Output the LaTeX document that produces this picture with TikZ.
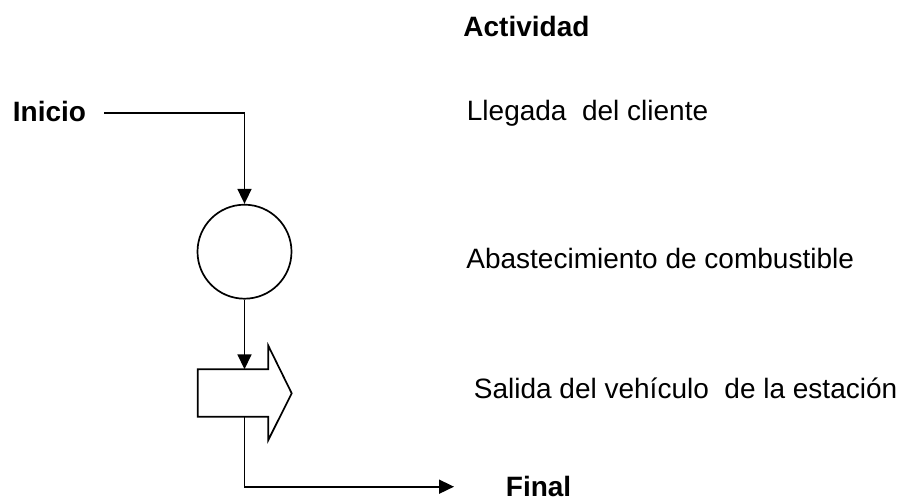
\documentclass[tikz,border=0pt]{standalone}
\usepackage{fontspec}
\setmainfont{Liberation Sans}
\usetikzlibrary{arrows.meta}
\begin{document}
\begin{tikzpicture}[x=0.5pt,y=-0.5pt,
  lbl/.style={anchor=base west,inner sep=0pt,font=\fontsize{14}{17}\selectfont},
  blbl/.style={lbl,font=\fontsize{14}{17}\selectfont\bfseries},
  conn/.style={line width=0.85pt,-{Triangle[length=7.5pt,width=7pt]}},
  shp/.style={draw,line width=0.85pt}]
\useasboundingbox (0,0) rectangle (907,499);
% labels
\node[blbl] (act) at (463,36) {Actividad};
\node[blbl] (ini) at (12.5,121.7) {Inicio};
\node[lbl] (lleg) at (466.5,120) {Llegada\ \ del cliente};
\node[lbl] (abas) at (466,268.3) {Abastecimiento de combustible};
\node[lbl] (sal) at (473.5,398) {Salida del vehículo\ \ de la estación};
\node[blbl] (fin) at (505.5,496) {Final};
% operation circle
\node[shp,circle,minimum size=47pt,inner sep=0pt] (op) at (244.5,251.7) {};
% transport arrow shape
\draw[shp,line join=miter]
  (197.7,369.3) -- (268.3,369.3) -- (268.3,345.7) -- (291.7,393.3)
  -- (268.3,440) -- (268.3,416.7) -- (197.7,416.7) -- cycle;
\coordinate (trtop) at (244.5,369.3);
\coordinate (trbot) at (244.5,416.7);
\coordinate (start) at (104,113);
\coordinate (finish) at (454,486.7);
% connectors
\draw[conn] (start) -| (op.north);
\draw[conn] (op.south) -- (trtop);
\draw[conn] (trbot) |- (finish);
\end{tikzpicture}
\end{document}
